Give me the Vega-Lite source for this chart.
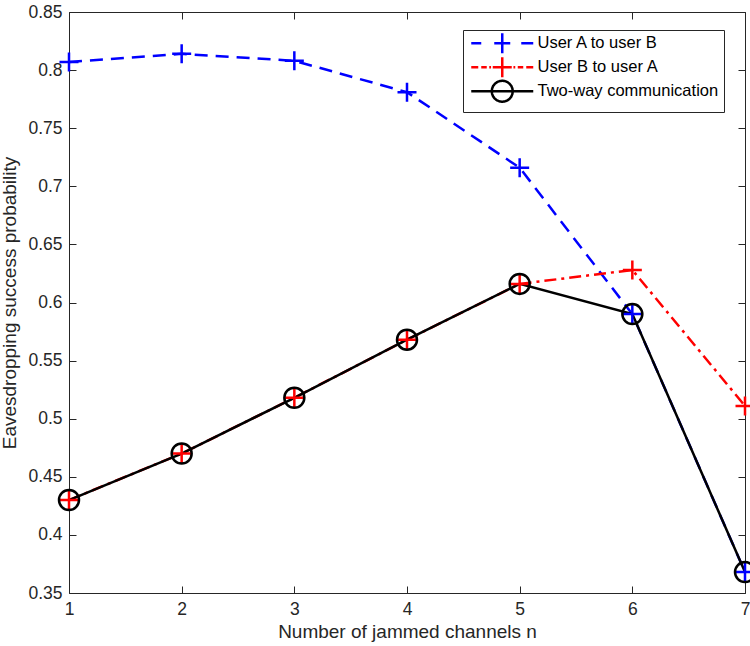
{
  "$schema": "https://vega.github.io/schema/vega-lite/v6.json",
  "autosize": "none",
  "padding": {"left": 69, "top": 12, "right": 5, "bottom": 53},
  "width": 676,
  "height": 581,
  "background": "white",
  "data": {
    "values": [
      {"series": "User A to user B", "n": 1, "p": 0.807},
      {"series": "User A to user B", "n": 2, "p": 0.814},
      {"series": "User A to user B", "n": 3, "p": 0.808},
      {"series": "User A to user B", "n": 4, "p": 0.781},
      {"series": "User A to user B", "n": 5, "p": 0.716},
      {"series": "User A to user B", "n": 6, "p": 0.590},
      {"series": "User A to user B", "n": 7, "p": 0.368},
      {"series": "User B to user A", "n": 1, "p": 0.430},
      {"series": "User B to user A", "n": 2, "p": 0.470},
      {"series": "User B to user A", "n": 3, "p": 0.518},
      {"series": "User B to user A", "n": 4, "p": 0.568},
      {"series": "User B to user A", "n": 5, "p": 0.616},
      {"series": "User B to user A", "n": 6, "p": 0.628},
      {"series": "User B to user A", "n": 7, "p": 0.511},
      {"series": "Two-way communication", "n": 1, "p": 0.430},
      {"series": "Two-way communication", "n": 2, "p": 0.470},
      {"series": "Two-way communication", "n": 3, "p": 0.518},
      {"series": "Two-way communication", "n": 4, "p": 0.568},
      {"series": "Two-way communication", "n": 5, "p": 0.616},
      {"series": "Two-way communication", "n": 6, "p": 0.590},
      {"series": "Two-way communication", "n": 7, "p": 0.368}
    ]
  },
  "encoding": {
    "x": {"field": "n", "type": "quantitative", "scale": {"domain": [1, 7], "nice": false, "zero": false}, "axis": null},
    "y": {"field": "p", "type": "quantitative", "scale": {"domain": [0.35, 0.85], "nice": false, "zero": false}, "axis": null},
    "color": {
      "field": "series", "type": "nominal",
      "scale": {"domain": ["User A to user B", "User B to user A", "Two-way communication"], "range": ["#0000ff", "#ff0000", "#000000"]},
      "legend": {
        "orient": "none", "legendX": 394, "legendY": 18, "title": null,
        "symbolSize": 100, "symbolOffset": 26, "labelOffset": 27, "rowPadding": -8, "padding": 5, "labelLimit": 0,
        "encode": {
          "symbols": {
            "update": {
              "shape": {"signal": "datum.value === 'User A to user B' ? 'M-6.2,0H-4.2M-1.6,0H1.6M3.8,0H6.2M0,-2V2' : datum.value === 'User B to user A' ? 'M-6.2,0H-4.8M-4.2,0H-3.1M-2.6,0H-2.24M-1.9,0H1.9M2.24,0H2.6M3.1,0H4.2M4.8,0H6.2M0,-2V2' : 'M-6.2,0H6.2M2.1,0L2.028,0.543L1.819,1.05L1.485,1.485L1.05,1.819L0.543,2.028L0,2.1L-0.543,2.028L-1.05,1.819L-1.485,1.485L-1.819,1.05L-2.028,0.543L-2.1,0L-2.028,-0.543L-1.819,-1.05L-1.485,-1.485L-1.05,-1.819L-0.543,-2.028L0,-2.1L0.543,-2.028L1.05,-1.819L1.485,-1.485L1.819,-1.05L2.028,-0.543Z'"},
              "strokeDash": {"value": [1, 0]},
              "fill": {"value": "transparent"},
              "stroke": {"scale": "color", "field": "value"},
              "strokeWidth": {"value": 2.5},
              "opacity": {"value": 1}
            }
          }
        }
      }
    }
  },
  "resolve": {"axis": {"x": "independent", "y": "independent"}},
  "layer": [
    {
      "transform": [{"filter": "datum.series === 'User A to user B'"}],
      "mark": {"type": "line", "strokeWidth": 2.5, "strokeDash": [13, 8], "clip": false},
      "encoding": {
        "x": {
          "field": "n", "type": "quantitative",
          "axis": {"orient": "bottom", "values": [1, 2, 3, 4, 5, 6, 7], "format": "d", "title": "Number of jammed channels n", "labelPadding": 14, "titlePadding": 5}
        },
        "y": {
          "field": "p", "type": "quantitative",
          "axis": {"orient": "left", "values": [0.35, 0.4, 0.45, 0.5, 0.55, 0.6, 0.65, 0.7, 0.75, 0.8, 0.85], "format": ".2~f", "title": "Eavesdropping success probability", "labelPadding": 14, "titlePadding": 8}
        }
      }
    },
    {
      "transform": [{"filter": "datum.series === 'User B to user A'"}],
      "mark": {"type": "line", "strokeWidth": 2.5, "strokeDash": [12, 5, 3, 5], "clip": false}
    },
    {
      "transform": [{"filter": "datum.series === 'Two-way communication'"}],
      "mark": {"type": "line", "strokeWidth": 2.5, "clip": false}
    },
    {
      "transform": [{"filter": "datum.series !== 'Two-way communication'"}],
      "mark": {"type": "point", "shape": "M-1,0H1M0,-1V1", "size": 361, "filled": false, "strokeWidth": 2.5, "opacity": 1, "clip": false},
      "encoding": {
        "x": {"field": "n", "type": "quantitative", "axis": {"orient": "top", "values": [1, 2, 3, 4, 5, 6, 7], "labels": false, "title": null}},
        "y": {"field": "p", "type": "quantitative", "axis": {"orient": "right", "values": [0.35, 0.4, 0.45, 0.5, 0.55, 0.6, 0.65, 0.7, 0.75, 0.8, 0.85], "labels": false, "title": null}}
      }
    },
    {
      "transform": [{"filter": "datum.series === 'Two-way communication'"}],
      "mark": {"type": "point", "shape": "circle", "size": 400, "filled": false, "strokeWidth": 2.5, "opacity": 1, "clip": false}
    }
  ],
  "config": {
    "view": {"stroke": null},
    "axis": {
      "grid": false,
      "tickSize": -7,
      "labelFlush": false,
      "tickColor": "#262626",
      "domainColor": "#262626",
      "labelColor": "#262626",
      "titleColor": "#262626",
      "labelFont": "Liberation Sans",
      "titleFont": "Liberation Sans",
      "labelFontSize": 17.5,
      "titleFontSize": 19,
      "titleFontWeight": "normal"
    },
    "legend": {
      "labelFont": "Liberation Sans",
      "labelFontSize": 16.5,
      "labelColor": "#000000",
      "strokeColor": "#262626",
      "fillColor": "white"
    }
  }
}
